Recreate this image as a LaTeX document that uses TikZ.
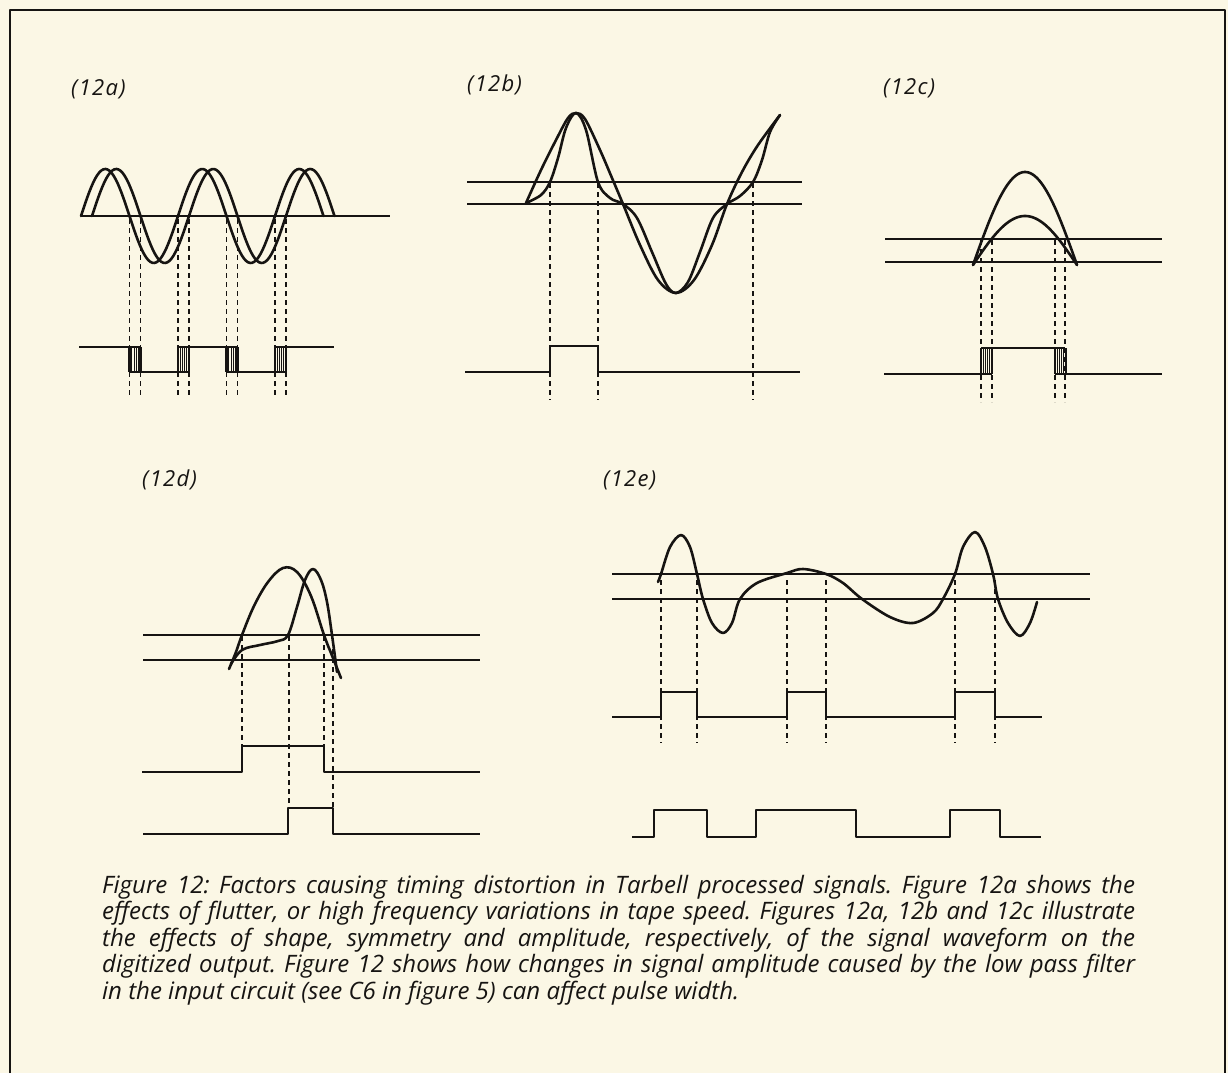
\documentclass[tikz,border=0pt]{standalone}
\usepackage{fontspec}
\setmainfont{Open Sans}
\definecolor{bg}{RGB}{251,247,229}
\definecolor{ink}{RGB}{22,20,18}
\frenchspacing
\begin{document}
\begin{tikzpicture}[x=1pt,y=-1pt,line join=round,
  wave/.style={ink,line width=2.6pt,line cap=round},
  thr/.style={ink,line width=1.5pt},
  dig/.style={ink,line width=2.2pt},
  guide/.style={ink,line width=1.6pt,dash pattern=on 5pt off 4pt},
  hatch/.style={ink,line width=0.7pt},
  lbl/.style={ink,font=\fontsize{22}{26}\selectfont\itshape\addfontfeature{LetterSpace=6},anchor=base west,inner sep=0pt},
  captxt/.style={ink,font=\fontsize{24}{27}\selectfont\itshape,anchor=base west,inner sep=0pt}]
\fill[bg] (0,0) rectangle (1228,1073);
\useasboundingbox (0,0) rectangle (1228,1073);
% frame
\draw[ink,line width=2.8pt] (10,1073) -- (10,10) -- (1225,10) -- (1225,1073);

% ---------------- 12a ----------------
\node[lbl] (la) at (71,95) {(12a)};
\draw[thr] (81,216) -- (390,216);
\draw[wave,domain=81:323.5,samples=120] plot (\x,{216-47*sin(3.71134*(\x-81))});
\draw[wave,domain=92:334.5,samples=120] plot (\x,{216-47*sin(3.71134*(\x-92))});
\foreach \xx in {129.5,140.5,178,189,226.5,237.5,275,286}
  \draw[guide] (\xx,219) -- (\xx,398);
\draw[dig] (79,347) -- (140.5,347);
\draw[dig] (129.5,372) -- (189,372);
\draw[dig] (178,347) -- (237.5,347);
\draw[dig] (226.5,372) -- (286,372);
\draw[dig] (275,347) -- (334,347);
\foreach \a in {129.5,178,226.5,275}{
  \draw[dig] (\a,347) -- (\a,372) (\a+11,347) -- (\a+11,372);
  \foreach \k in {1,...,4} \draw[hatch] (\a+2.2*\k,347) -- (\a+2.2*\k,372);
}

% ---------------- 12b ----------------
\node[lbl] (lb) at (467,92) {(12b)};
\draw[thr] (467,182) -- (802,182);
\draw[thr] (467,204) -- (802,204);
\draw[wave] plot[smooth,tension=0.55] coordinates {(526,203) (541,170) (556,140) (568,118) (576,113) (585,119) (600,150) (612,178) (623,204) (640,245) (658,280) (676,293) (694,280) (712,245) (727,204) (742,172) (758,145) (780,115)};
\draw[wave] plot[smooth,tension=0.55] coordinates {(526,203) (541,195) (550,182) (558,158) (566,128) (576,113) (586,130) (598,182) (610,198) (623,204) (637,218) (652,252) (666,284) (676,293) (688,282) (700,252) (713,218) (727,204) (740,196) (753,182) (762,160) (770,132) (780,115)};
\foreach \xx in {550,598,753}
  \draw[guide] (\xx,183) -- (\xx,400);
\draw[dig] (465,372) -- (550,372) -- (550,346) -- (598,346) -- (598,372) -- (800,372);

% ---------------- 12c ----------------
\node[lbl] (lc) at (883,94) {(12c)};
\draw[thr] (885,239) -- (1162,239);
\draw[thr] (885,262) -- (1162,262);
\draw[wave,domain=973:1077,samples=80] plot (\x,{265-93*sin(1.730769*(\x-973))});
\draw[wave,domain=973:1077,samples=80] plot (\x,{265-49*sin(1.730769*(\x-973))});
\foreach \xx in {981,992,1055,1065}
  \draw[guide] (\xx,240) -- (\xx,402);
\draw[dig] (884,374) -- (992,374);
\draw[dig] (981,348) -- (1065,348);
\draw[dig] (1055,374) -- (1162,374);
\foreach \a in {981,1055}{
  \draw[dig] (\a,348) -- (\a,374) (\a+11,348) -- (\a+11,374);
  \foreach \k in {1,...,4} \draw[hatch] (\a+2.2*\k,348) -- (\a+2.2*\k,374);
}

% ---------------- 12d ----------------
\node[lbl] (ld) at (142,486) {(12d)};
\draw[thr] (143,635) -- (480,635);
\draw[thr] (143,660) -- (480,660);
\draw[wave] plot[smooth,tension=0.6] coordinates {(229,669) (236,652) (242,635) (254,606) (268,582) (283,568) (297,572) (311,596) (324,635) (333,658) (341,678)};
\draw[wave] plot[smooth,tension=0.6] coordinates {(231,664) (242,650) (260,645) (278,641) (288,635) (297,607) (305,580) (313,569) (321,580) (327,602) (332,635) (337,672)};
\draw[guide] (242,636) -- (242,746);
\draw[guide] (289,636) -- (289,808);
\draw[guide] (324,636) -- (324,772);
\draw[guide] (333,640) -- (333,834);
\draw[dig] (142,772) -- (242,772) -- (242,746) -- (324,746) -- (324,772) -- (480,772);
\draw[dig] (143,834) -- (288,834) -- (288,808) -- (333,808) -- (333,834) -- (480,834);

% ---------------- 12e ----------------
\node[lbl] (le) at (603,486) {(12e)};
\draw[thr] (612,574) -- (1090,574);
\draw[thr] (612,599) -- (1090,599);
\draw[wave] plot[smooth,tension=0.55] coordinates {(658,582) (661,574) (670,547) (681,535) (690,547) (697,574) (703,599) (712,623) (723,633) (732,623) (740,599) (757,583) (787,573) (803,569) (826,574) (843,583) (862,599) (890,617) (913,623) (933,613) (943,599) (955,574) (963,547) (975,532) (985,547) (993,574) (998,599) (1008,623) (1020,636) (1030,623) (1037,602)};
\foreach \xx in {661,697,787,826,955,995}
  \draw[guide] (\xx,580) -- (\xx,743);
\draw[dig] (612,717) -- (661,717) -- (661,692) -- (697,692) -- (697,717) -- (787,717) -- (787,692) -- (826,692) -- (826,717) -- (955,717) -- (955,692) -- (995,692) -- (995,717) -- (1042,717);
\draw[dig] (632,837) -- (654,837) -- (654,810) -- (707,810) -- (707,837) -- (756,837) -- (756,810) -- (856,810) -- (856,837) -- (950,837) -- (950,810) -- (1000,810) -- (1000,837) -- (1041,837);

% ---------------- caption ----------------
\node[captxt] (c1) at (102,893) {\hbox to 1033pt{Figure 12: Factors causing timing distortion in Tarbell processed signals. Figure 12a shows the}};
\node[captxt] (c2) at (102,919.5) {\hbox to 1033pt{effects of flutter, or high frequency variations in tape speed. Figures 12a, 12b and 12c illustrate}};
\node[captxt] (c3) at (102,946) {\hbox to 1033pt{the effects of shape, symmetry and amplitude, respectively, of the signal waveform on the}};
\node[captxt] (c4) at (102,972.5) {\hbox to 1033pt{digitized output. Figure 12 shows how changes in signal amplitude caused by the low pass filter}};
\node[captxt] (c5) at (102,999) {in the input circuit (see C6 in figure 5) can affect pulse width.};
\end{tikzpicture}
\end{document}
